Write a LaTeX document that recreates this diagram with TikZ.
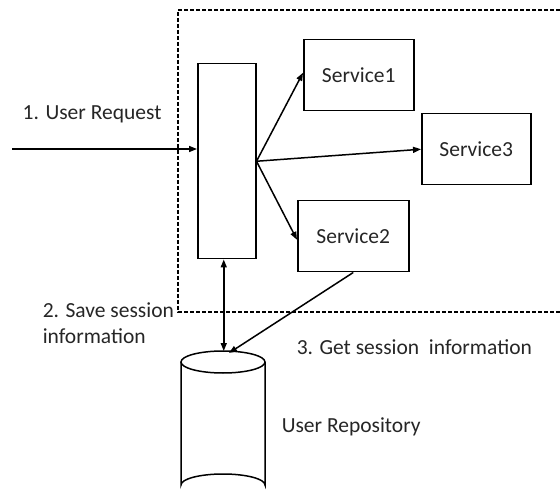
\documentclass[tikz,border=0pt]{standalone}
\usepackage{fontspec}
\setmainfont{Carlito}
\usetikzlibrary{arrows.meta}
\begin{document}
\begin{tikzpicture}[x=1pt,y=-1pt,
  line width=1.5pt,
  box/.style={draw, line width=1.5pt, inner sep=0pt, anchor=north west},
  arr/.style={-{Triangle[length=8pt,width=6pt]}},
  darr/.style={{Triangle[length=8pt,width=6pt]}-{Triangle[length=8pt,width=6pt]}},
  lbl/.style={font=\fontsize{21.5}{26}\selectfont, anchor=base west, inner sep=0pt, text=black!85},
  bound/.style={line width=1.2pt, dash pattern=on 4pt off 2pt}]
\useasboundingbox (0,0) rectangle (560,497);

% service boundary (dashed), open on the right
\draw[bound] (560,10) -- (178,10) -- (178,312) -- (560,312);

% gateway and services
\node[box, minimum width=58pt, minimum height=195pt] (gw) at (197,63) {};
\node[box, minimum width=110pt, minimum height=71pt] (s1) at (303,39) {};
\node[lbl, anchor=center] (t1) at (s1.center) {Service1};
\node[box, minimum width=109pt, minimum height=71pt] (s3) at (421,113) {};
\node[lbl, anchor=center] (t3) at (s3.center) {Service3};
\node[box, minimum width=111pt, minimum height=71pt] (s2) at (297,200) {};
\node[lbl, anchor=center] (t2) at (s2.center) {Service2};

% user repository (cylinder)
\coordinate (dbtop) at (223,351);
\draw (181,362) -- (181,485) arc[start angle=180, end angle=360, x radius=42, y radius=11] -- (265,362);
\draw (223,362) ellipse [x radius=42, y radius=11];

% connectors
\coordinate (in) at (12,149);
\draw[arr] (in) -- (in -| gw.west);
\draw[arr] (gw.east) -- ([yshift=2.5pt]s1.west);
\draw[arr] (gw.east) -- (s3.west);
\draw[arr] (gw.east) -- ([yshift=-3.5pt]s2.west);
\draw[darr] ([xshift=-3pt]gw.south) -- ([xshift=-3pt]gw.south |- dbtop);
\draw[arr] (s2.south) -- ([xshift=6pt,yshift=-2pt]dbtop);

% labels
\node[lbl] (l1) at (22,120) {1. User Request};
\node[lbl] (l2) at (42,317) {2. Save session};
\node[lbl] (l2b) at (42,343) {information};
\node[lbl] (l3) at (296,354) {3. Get session\ \ information};
\node[lbl] (l4) at (281,432) {User Repository};
\end{tikzpicture}
\end{document}
